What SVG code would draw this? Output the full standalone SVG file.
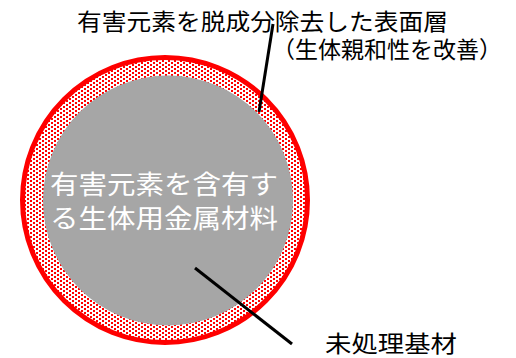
<svg xmlns="http://www.w3.org/2000/svg" width="516" height="358" viewBox="0 0 516 358">
<style>
.lbl{font-family:"Noto Sans CJK JP","Noto Sans",sans-serif;font-size:23px;fill:#000}
.in{font-family:"Noto Sans CJK JP","Noto Sans",sans-serif;font-size:26px;fill:#fff}
.ptr{stroke:#000;stroke-width:3;fill:none}
</style>
<defs>
<pattern id="dots" width="6" height="4" patternUnits="userSpaceOnUse">
<rect width="6" height="4" fill="#fff"/>
<rect x="0" y="0" width="2" height="2" fill="#f00" shape-rendering="crispEdges"/>
<rect x="3" y="2" width="2" height="2" fill="#f00" shape-rendering="crispEdges"/>
</pattern>
</defs>
<rect width="516" height="358" fill="#fff"/>
<g id="layer">
<circle cx="165" cy="200" r="142" fill="url(#dots)"/>
<circle cx="165" cy="200" r="142.5" fill="none" stroke="#f00" stroke-width="5"/>
</g>
<g id="substrate">
<circle cx="168" cy="200.5" r="125" fill="#a6a6a6"/>
<text class="in" x="50" y="194" textLength="228" lengthAdjust="spacingAndGlyphs">有害元素を含有す</text>
<text class="in" x="50" y="228" textLength="228" lengthAdjust="spacingAndGlyphs">る生体用金属材料</text>
</g>
<g id="connectors">
<line class="ptr" x1="273" y1="24" x2="259" y2="112"/>
<line class="ptr" x1="195" y1="268" x2="292" y2="344"/>
</g>
<g id="label-surface">
<text class="lbl" x="77" y="30" textLength="371" lengthAdjust="spacingAndGlyphs">有害元素を脱成分除去した表面層</text>
<text class="lbl" x="272" y="58" textLength="230" lengthAdjust="spacingAndGlyphs">（生体親和性を改善）</text>
</g>
<g id="label-base">
<text class="lbl" x="325" y="352" textLength="132" lengthAdjust="spacingAndGlyphs">未処理基材</text>
</g>
</svg>
